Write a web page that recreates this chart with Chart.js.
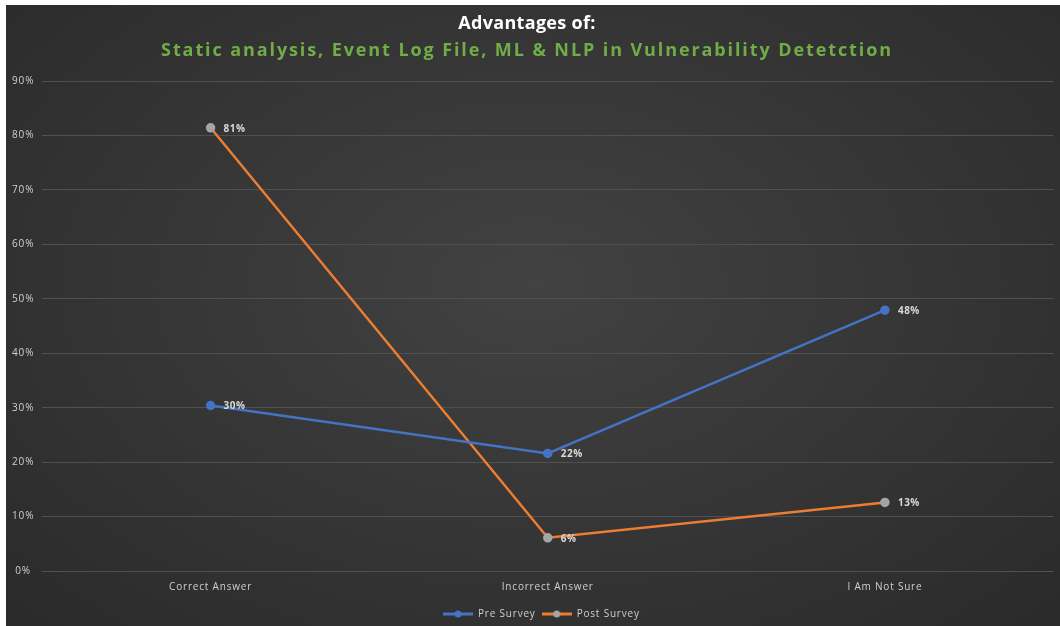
<!DOCTYPE html>
<html>
<head>
<meta charset="utf-8">
<script src="https://cdn.jsdelivr.net/npm/chart.js@4"></script>
<style>
  html, body { margin: 0; padding: 0; background: #ffffff; }
  #wrap {
    position: absolute; left: 6px; top: 5px; width: 1054px; height: 621px;
    background: radial-gradient(ellipse at 50% 45%, #424242 0%, #373737 45%, #2a2a2a 100%);
  }
  canvas { display: block; }
</style>
</head>
<body>
<div id="wrap"><canvas id="c" width="1054" height="621"></canvas></div>
<script>
const categories = ["Correct Answer", "Incorrect Answer", "I Am Not Sure"];
const preSurvey = [30.4, 21.6, 47.9];
const postSurvey = [81.4, 6.1, 12.6];
const seriesNames = ["Pre Survey", "Post Survey"];
const titleText = "Advantages of:";
const subtitleText = "Static analysis, Event Log File, ML & NLP in Vulnerability Detetction";

const BLUE = "#4472C4", ORANGE = "#ED7D31", GREY = "#A5A5A5";

function legendIcon(lineColor, dotColor) {
  const cv = document.createElement("canvas");
  cv.width = 30; cv.height = 10;
  const g = cv.getContext("2d");
  g.strokeStyle = lineColor; g.lineWidth = 3;
  g.beginPath(); g.moveTo(0, 5); g.lineTo(30, 5); g.stroke();
  g.fillStyle = dotColor;
  g.beginPath(); g.arc(15, 5, 3.5, 0, Math.PI * 2); g.fill();
  return cv;
}
const icons = [legendIcon(BLUE, BLUE), legendIcon(ORANGE, GREY)];

const spacing = {
  id: "spacing",
  beforeDraw(chart) { chart.ctx.letterSpacing = "0.8px"; }
};

const titles = {
  id: "titles",
  afterDraw(chart) {
    const ctx = chart.ctx;
    const cx = chart.width / 2;
    ctx.save();
    ctx.textAlign = "center";
    ctx.textBaseline = "middle";
    ctx.font = "bold 18px 'Open Sans'";
    ctx.letterSpacing = "0.3px";
    ctx.fillStyle = "#ffffff";
    ctx.fillText(titleText, cx - 6, 19);
    ctx.letterSpacing = "1.9px";
    ctx.fillStyle = "#70AD47";
    ctx.fillText(subtitleText, cx - 6, 46);
    ctx.restore();
  }
};

const valueLabels = {
  id: "valueLabels",
  afterDatasetsDraw(chart) {
    const ctx = chart.ctx;
    ctx.save();
    ctx.font = "bold 10px 'Open Sans'";
    ctx.letterSpacing = "0.5px";
    ctx.fillStyle = "#d9d9d9";
    ctx.textAlign = "left";
    ctx.textBaseline = "middle";
    chart.data.datasets.forEach((ds, i) => {
      const meta = chart.getDatasetMeta(i);
      meta.data.forEach((pt, j) => {
        ctx.fillText(Math.round(ds.data[j]) + "%", pt.x + 13, pt.y + 1);
      });
    });
    ctx.restore();
  }
};

new Chart(document.getElementById("c"), {
  type: "line",
  data: {
    labels: categories,
    datasets: [
      {
        label: seriesNames[0], data: preSurvey,
        borderColor: BLUE, backgroundColor: BLUE, borderWidth: 2.5,
        pointRadius: 3.5, pointBackgroundColor: BLUE, pointBorderColor: BLUE, pointStyle: "circle"
      },
      {
        label: seriesNames[1], data: postSurvey,
        borderColor: ORANGE, backgroundColor: ORANGE, borderWidth: 2.5,
        pointRadius: 3.5, pointBackgroundColor: GREY, pointBorderColor: GREY, pointStyle: "circle"
      }
    ]
  },
  options: {
    responsive: false,
    animation: false,
    layout: { padding: { left: 0, right: 0, top: 76, bottom: -3 } },
    elements: { line: { tension: 0 } },
    scales: {
      x: {
        offset: true,
        afterFit(s) { s.paddingLeft = 0; s.paddingRight = 0; },
        grid: { display: false, drawTicks: false },
        border: { display: false },
        ticks: { color: "#d0d0d0", font: { family: "'Open Sans'", size: 10 }, padding: 10, maxRotation: 0 }
      },
      y: {
        min: 0, max: 90,
        afterFit(s) { s.width = 36; },
        grid: { color: "#505050", lineWidth: 1, drawTicks: false },
        border: { display: false },
        ticks: {
          stepSize: 10, color: "#d0d0d0", font: { family: "'Open Sans'", size: 10 },
          padding: 9, crossAlign: "center",
          callback: v => v + "%"
        }
      }
    },
    plugins: {
      title: { display: false },
      subtitle: { display: false },
      legend: {
        position: "bottom",
        labels: {
          color: "#d0d0d0", font: { family: "'Open Sans'", size: 10 },
          usePointStyle: true, pointStyleWidth: 30, padding: 6,
          generateLabels(chart) {
            const items = Chart.defaults.plugins.legend.labels.generateLabels(chart);
            items.forEach((it, i) => { it.pointStyle = icons[i]; });
            return items;
          }
        }
      },
      tooltip: { enabled: false }
    }
  },
  plugins: [spacing, valueLabels, titles]
});
</script>
</body>
</html>
